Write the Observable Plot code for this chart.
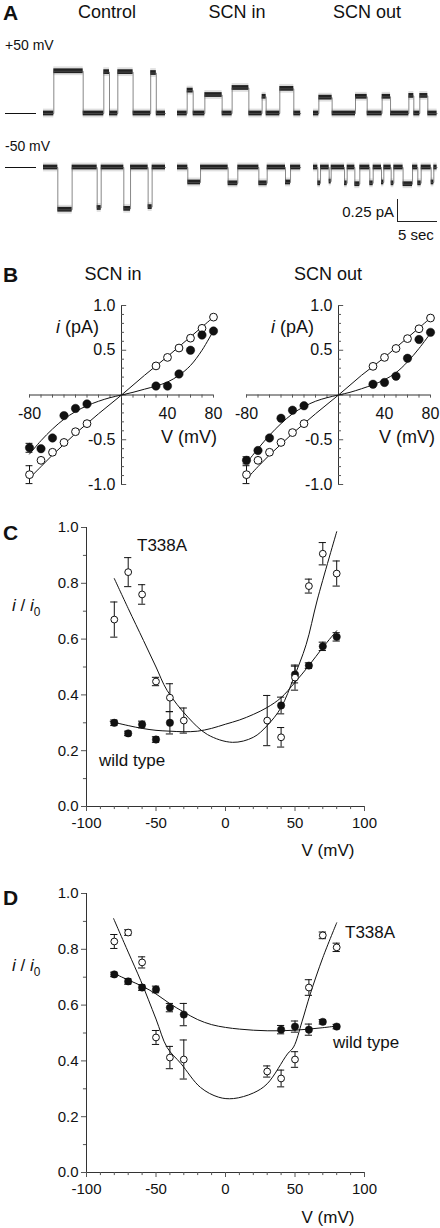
<!DOCTYPE html>
<html><head><meta charset="utf-8">
<script src="https://cdn.jsdelivr.net/npm/d3@7"></script>
<script src="https://cdn.jsdelivr.net/npm/@observablehq/plot@0.6"></script>
<style>
html,body{margin:0;padding:0;background:#fff;}
#fig{position:relative;width:440px;height:1228px;overflow:hidden;font-family:"Liberation Sans",Arial,Helvetica,sans-serif;color:#111;}
.lbl{position:absolute;white-space:pre;line-height:1;}
.slot{position:absolute;}
.slot svg{background:transparent;overflow:visible;display:block;}
</style></head>
<body><div id="fig"></div>
<script>
// ================= DATA =================
// Panel A: single-channel openings [start s, end s, amplitude pA], per trace
const traceConditions = ["Control", "SCN in", "SCN out"];
const traceLengths = [15.25, 15.4, 15.45];
const openControlP50 = [[1.29,4.96,0.48],[7.54,8.25,0.47],[9.29,11.2,0.47],[13.4,14.1,0.46]];
const openScnInP50   = [[1.21,1.96,0.26],[3.42,5.58,0.21],[6.83,8.92,0.29],[10.58,11.08,0.19],[12.79,14.54,0.28]];
const openScnOutP50  = [[0.67,2.33,0.18],[5.25,6.71,0.19],[8.58,9.63,0.19],[11.92,12.54,0.2],[13.29,14.29,0.2]];
const openControlM50 = [[1.79,3.58,-0.48],[6.71,7.21,-0.46],[10.04,10.88,-0.47],[13.08,13.58,-0.45]];
const openScnInM50   = [[1.29,2.88,-0.17],[6.33,7.54,-0.18],[10.17,11.21,-0.18],[13.5,14.13,-0.17]];
const openScnOutM50  = [[0.54,0.88,-0.18],[1.96,2.21,-0.16],[3.88,4.21,-0.18],[5.17,5.79,-0.19],[7.04,7.46,-0.18],[8.5,8.79,-0.17],[9.71,10.04,-0.18],[11.2,12.38,-0.19],[13.04,13.46,-0.18],[14.71,15.04,-0.17]];
const scaleBarPA = 0.25, scaleBarSec = 5;

// Panel B: i-V relations (mV, pA)
const ivVoltages = [-80,-70,-60,-50,-40,-30,30,40,50,60,70,80];
const ivInOpen    = [-0.89,-0.73,-0.64,-0.53,-0.41,-0.32,0.325,0.42,0.525,0.635,0.745,0.87];
const ivInOpenErr = [0.1,0,0,0,0,0,0,0,0,0,0,0];
const ivInFilled    = [-0.59,-0.60,-0.48,-0.23,-0.15,-0.10,0.10,0.10,0.235,0.50,0.67,0.715];
const ivInFilledErr = [0.05,0,0,0,0,0,0,0,0,0,0,0];
const ivOutOpen    = [-0.89,-0.73,-0.64,-0.53,-0.42,-0.32,0.32,0.42,0.52,0.63,0.74,0.86];
const ivOutOpenErr = [0.1,0,0,0,0,0,0,0,0,0,0,0];
const ivOutFilled    = [-0.73,-0.62,-0.48,-0.26,-0.17,-0.12,0.12,0.14,0.21,0.41,0.62,0.70];
const ivOutFilledErr = [0.04,0,0,0,0,0,0,0,0,0,0,0];
const ivCurveV = [-80,-70,-60,-50,-40,-30,-20,-10,0,10,20,30,40,50,60,70,80];
const ivInOpenFit    = [-0.93,-0.80,-0.67,-0.55,-0.43,-0.32,-0.21,-0.105,0,0.11,0.22,0.325,0.43,0.54,0.65,0.76,0.87];
const ivInFilledFit  = [-0.66,-0.51,-0.38,-0.27,-0.185,-0.12,-0.07,-0.03,0,0.03,0.065,0.10,0.145,0.22,0.33,0.50,0.72];
const ivOutOpenFit   = [-0.94,-0.80,-0.67,-0.55,-0.43,-0.32,-0.21,-0.105,0,0.11,0.22,0.32,0.42,0.53,0.64,0.75,0.86];
const ivOutFilledFit = [-0.76,-0.60,-0.45,-0.32,-0.21,-0.13,-0.07,-0.03,0,0.03,0.07,0.115,0.17,0.25,0.37,0.52,0.69];
const ivXTickLabels = [-80, 40, 80];
const ivYTickLabels = [1.0, 0.5, -0.5, -1.0];

// Panel C: i/i0 vs V (SCN in)
const relV = [-80,-70,-60,-50,-40,-30,30,40,50,60,70,80];
const cMut    = [0.67,0.84,0.76,0.448,0.39,0.308,0.308,0.248,0.462,0.79,0.906,0.835];
const cMutErr = [0.063,0.052,0.035,0.015,0.05,0.045,0.09,0.035,0.045,0.025,0.04,0.045];
const relWtV = [-80,-70,-60,-50,-40,40,50,60,70,80];
const cWt    = [0.30,0.262,0.294,0.24,0.30,0.362,0.473,0.505,0.574,0.608];
const cWtErr = [0.01,0.008,0.012,0.01,0.04,0.03,0.03,0.01,0.015,0.015];
const cMutFitV = [-80,-70,-59,-50,-42,-27,-13,5,20,30,40,49,58,66,80];
const cMutFit  = [0.817,0.71,0.595,0.50,0.416,0.32,0.258,0.23,0.248,0.29,0.355,0.46,0.58,0.74,0.985];
const cWtFitV = [-83,-70,-60,-50,-40,-30,-20,-10,0,10,20,30,40,50,60,70,80];
const cWtFit  = [0.305,0.29,0.28,0.273,0.27,0.268,0.27,0.28,0.295,0.31,0.33,0.355,0.39,0.445,0.505,0.57,0.63];

// Panel D: i/i0 vs V (SCN out)
const dMut    = [0.828,0.86,0.753,0.484,0.412,0.405,0.362,0.337,0.405,0.663,0.85,0.807];
const dMutErr = [0.025,0.01,0.02,0.025,0.04,0.07,0.02,0.03,0.028,0.028,0.012,0.015];
const relWtVD = [-80,-70,-60,-50,-40,-30,40,50,60,70,80];
const dWt    = [0.71,0.685,0.663,0.656,0.591,0.566,0.512,0.523,0.512,0.54,0.523];
const dWtErr = [0.008,0.01,0.01,0.012,0.015,0.04,0.015,0.02,0.02,0.008,0.008];
const dMutFitV = [-80.5,-70,-61,-50,-42,-32,-18,-5,5.7,20,30,44.6,49,55,61,70,80];
const dMutFit  = [0.91,0.79,0.688,0.55,0.448,0.39,0.305,0.27,0.265,0.285,0.318,0.425,0.45,0.54,0.64,0.77,0.895];
const dWtFitV = [-80,-70,-60,-50,-40,-30,-20,-10,0,10,20,30,40,50,60,70,80];
const dWtFit  = [0.713,0.69,0.668,0.64,0.605,0.575,0.548,0.53,0.52,0.514,0.51,0.508,0.508,0.51,0.514,0.519,0.525];

const relXTickLabels = [-100,-50,0,50,100];
const relYTickLabels = [0.0,0.2,0.4,0.6,0.8,1.0];

// ================= LAYOUT HELPERS =================
const FONT = "'Liberation Sans', Arial, Helvetica, sans-serif";
const fig = document.getElementById("fig");
function place(node, left, top){
  const d = document.createElement("div"); d.className = "slot";
  d.style.left = left + "px"; d.style.top = top + "px";
  d.appendChild(node); fig.appendChild(d);
}
function label(html, x, y, size, anchor = "start", weight = "normal"){
  const d = document.createElement("div"); d.className = "lbl"; d.innerHTML = html;
  const tx = anchor === "middle" ? "-50%" : anchor === "end" ? "-100%" : "0";
  d.style.left = x + "px"; d.style.top = y + "px"; d.style.fontSize = size + "px";
  d.style.fontWeight = weight; d.style.transform = `translate(${tx},-50%)`;
  fig.appendChild(d);
}
const plotStyle = {fontFamily: FONT, background: "transparent", overflow: "visible", color: "#111"};
const zip = (xs, ys, es) => xs.map((x, k) => ({x, y: ys[k], e: es ? es[k] : 0}));

// ================= PANEL A =================
(function(){
  const pxPerSec = 8, pxPerPA = 88, H = 190, top = 55;
  const yTop = 58 / pxPerPA;
  const rowOffset = [0, -54 / pxPerPA];
  const starts = [43 / pxPerSec, 177 / pxPerSec, 313 / pxPerSec];
  const rows = [[openControlP50, openScnInP50, openScnOutP50], [openControlM50, openScnInM50, openScnOutM50]];
  const segs = [], pts = [];
  rows.forEach((row, r) => row.forEach((openings, c) => {
    const len = traceLengths[c], off = starts[c], yo = rowOffset[r], id = r * 3 + c;
    let t = 0; const list = [];
    for (const [a, b, amp] of openings) { if (a > t) list.push([t, a, 0]); list.push([a, b, amp]); t = b; }
    if (t < len) list.push([t, len, 0]);
    for (const [a, b, amp] of list) {
      segs.push({x1: off + a, x2: off + b, y: yo + amp});
      pts.push({id, x: off + a, y: yo + amp}, {id, x: off + b, y: yo + amp});
    }
  }));
  const bars = rowOffset.map(y => ({y}));
  const sbX = 397 / pxPerSec, sbY = rowOffset[1] - 54 / pxPerPA;
  const chart = Plot.plot({
    width: 440, height: H, margin: 0,
    x: {domain: [0, 440 / pxPerSec], axis: null},
    y: {domain: [yTop - H / pxPerPA, yTop], axis: null},
    style: plotStyle,
    marks: [
      Plot.rect(segs, {x1: "x1", x2: "x2", y1: d => d.y - 0.05, y2: d => d.y + 0.05, fill: "#999", fillOpacity: 0.3}),
      Plot.rect(segs, {x1: "x1", x2: "x2", y1: d => d.y - 0.027, y2: d => d.y + 0.027, fill: "#222"}),
      Plot.line(pts, {x: "x", y: "y", z: "id", stroke: "#555", strokeWidth: 0.7}),
      Plot.ruleY(bars, {y: "y", x1: 5 / pxPerSec, x2: 36 / pxPerSec, stroke: "#111", strokeWidth: 1}),
      Plot.ruleX([{x: sbX}], {x: "x", y1: sbY, y2: sbY + scaleBarPA, stroke: "#222"}),
      Plot.ruleY([{y: sbY}], {y: "y", x1: sbX, x2: sbX + scaleBarSec, stroke: "#222"})
    ]
  });
  place(chart, 0, top);
  label("A", 3, 12, 21, "start", "bold");
  label("Control", 107, 12, 18, "middle");
  label("SCN in", 237, 12, 18, "middle");
  label("SCN out", 367, 12, 18, "middle");
  label("+50 mV", 5, 45, 14);
  label("-50 mV", 5, 146, 14);
  label("0.25 pA", 394, 211, 15, "end");
  label("5 sec", 398, 234, 15);
})();

// ================= PANEL B =================
function ivChart(open, openErr, filled, filledErr, openFit, filledFit, ml, mr){
  const xTicks = d3.range(-80, 81, 10);
  const yTicks = d3.range(-10, 11).map(k => k / 10);
  const oPts = zip(ivVoltages, open, openErr), fPts = zip(ivVoltages, filled, filledErr);
  const eb = [...oPts, ...fPts].filter(d => d.e > 0);
  return Plot.plot({
    width: 220, height: 200, marginTop: 10, marginBottom: 11, marginLeft: ml, marginRight: mr,
    x: {domain: [-80, 80], axis: null}, y: {domain: [-1, 1], axis: null},
    style: plotStyle,
    marks: [
      Plot.ruleY([0], {x1: -80, x2: 80, stroke: "#333"}),
      Plot.ruleX([0], {y1: -1, y2: 1, stroke: "#333"}),
      Plot.ruleX(xTicks, {x: d => d, y1: 0, y2: -0.035, stroke: "#555"}),
      Plot.ruleY(yTicks, {y: d => d, x1: 0, x2: d => (Math.round(d * 10) % 5 === 0 ? 4.5 : 2.6), stroke: "#555"}),
      Plot.text(ivXTickLabels, {x: d => d, y: 0, dy: 19, text: d => String(d), fontSize: 16, fill: "#111"}),
      Plot.text(ivYTickLabels, {x: 0, y: d => d, dx: -6, textAnchor: "end", text: d => d.toFixed(1), fontSize: 16, fill: "#111"}),
      Plot.ruleX(eb, {x: "x", y1: d => d.y - d.e, y2: d => d.y + d.e, stroke: "#111"}),
      Plot.ruleY(eb, {y: d => d.y - d.e, x1: d => d.x - 3, x2: d => d.x + 3, stroke: "#111"}),
      Plot.ruleY(eb, {y: d => d.y + d.e, x1: d => d.x - 3, x2: d => d.x + 3, stroke: "#111"}),
      Plot.line(zip(ivCurveV, openFit), {x: "x", y: "y", curve: "catmull-rom", stroke: "#111", strokeWidth: 1}),
      Plot.line(zip(ivCurveV, filledFit), {x: "x", y: "y", curve: "catmull-rom", stroke: "#111", strokeWidth: 1}),
      Plot.dot(oPts, {x: "x", y: "y", r: 3.9, fill: "white", stroke: "#111", strokeWidth: 1}),
      Plot.dot(fPts, {x: "x", y: "y", r: 4.2, fill: "#111", stroke: "#111", strokeWidth: 0.5})
    ]
  });
}
place(ivChart(ivInOpen, ivInOpenErr, ivInFilled, ivInFilledErr, ivInOpenFit, ivInFilledFit, 29, 7), 0, 295);
place(ivChart(ivOutOpen, ivOutOpenErr, ivOutFilled, ivOutFilledErr, ivOutOpenFit, ivOutFilledFit, 26, 10), 220, 295);
label("B", 3, 274, 21, "start", "bold");
label("SCN in", 113, 274, 18, "middle");
label("SCN out", 328, 274, 18, "middle");
label("<i>i</i> (pA)", 56, 327, 18);
label("<i>i</i> (pA)", 271, 327, 18);
label("V (mV)", 189, 437, 18, "middle");
label("V (mV)", 407, 437, 18, "middle");

// ================= PANELS C & D =================
function relChart(mut, mutErr, wtV, wt, wtErr, mutFitV, mutFit, wtFitV, wtFit, H, mt, mb){
  const xTicks = d3.range(-100, 101, 10);
  const yTicks = d3.range(0, 11).map(k => k / 10);
  const mPts = zip(relV, mut, mutErr), wPts = zip(wtV, wt, wtErr);
  const eb = [...mPts, ...wPts];
  return Plot.plot({
    width: 440, height: H, marginTop: mt, marginBottom: mb, marginLeft: 86, marginRight: 76,
    x: {domain: [-100, 100], axis: null}, y: {domain: [0, 1], axis: null},
    style: plotStyle,
    marks: [
      Plot.ruleY([0], {x1: -100, x2: 100, stroke: "#333"}),
      Plot.ruleX([-100], {y1: 0, y2: 1, stroke: "#333"}),
      Plot.ruleX(xTicks, {x: d => d, y1: 0, y2: d => (d % 50 === 0 ? -0.018 : -0.011), stroke: "#555"}),
      Plot.ruleY(yTicks, {y: d => d, x1: -100, x2: d => (Math.round(d * 10) % 2 === 0 ? -103.6 : -102.2), stroke: "#555"}),
      Plot.text(relXTickLabels, {x: d => d, y: 0, dy: 17, text: d => String(d), fontSize: 15, fill: "#111"}),
      Plot.text(relYTickLabels, {x: -100, y: d => d, dx: -8, textAnchor: "end", text: d => d.toFixed(1), fontSize: 15, fill: "#111"}),
      Plot.ruleX(eb, {x: "x", y1: d => d.y - d.e, y2: d => d.y + d.e, stroke: "#111"}),
      Plot.ruleY(eb, {y: d => d.y - d.e, x1: d => d.x - 2.6, x2: d => d.x + 2.6, stroke: "#111"}),
      Plot.ruleY(eb, {y: d => d.y + d.e, x1: d => d.x - 2.6, x2: d => d.x + 2.6, stroke: "#111"}),
      Plot.line(zip(mutFitV, mutFit), {x: "x", y: "y", curve: "catmull-rom", stroke: "#111", strokeWidth: 1}),
      Plot.line(zip(wtFitV, wtFit), {x: "x", y: "y", curve: "catmull-rom", stroke: "#111", strokeWidth: 1}),
      Plot.dot(wPts, {x: "x", y: "y", r: 3.7, fill: "#111", stroke: "#111", strokeWidth: 0.5}),
      Plot.dot(mPts, {x: "x", y: "y", r: 3.4, fill: "white", stroke: "#111", strokeWidth: 1})
    ]
  });
}
place(relChart(cMut, cMutErr, relWtV, cWt, cWtErr, cMutFitV, cMutFit, cWtFitV, cWtFit, 360, 27, 54), 0, 500);
place(relChart(dMut, dMutErr, relWtVD, dWt, dWtErr, dMutFitV, dMutFit, dWtFitV, dWtFit, 368, 33, 56), 0, 860);

const yLabel = "<i>i</i> / <i>i</i><sub style='font-size:0.7em;vertical-align:-0.35em'>0</sub>";
label("C", 3, 532, 21, "start", "bold");
label("T338A", 137, 545, 17);
label(yLabel, 12, 608, 17);
label("wild type", 99, 760, 17);
label("V (mV)", 328, 850, 17, "middle");

label("D", 3, 897, 21, "start", "bold");
label("T338A", 345, 932, 17);
label(yLabel, 12, 968, 17);
label("wild type", 333, 1042, 17);
label("V (mV)", 328, 1217, 17, "middle");
</script>
</body></html>
